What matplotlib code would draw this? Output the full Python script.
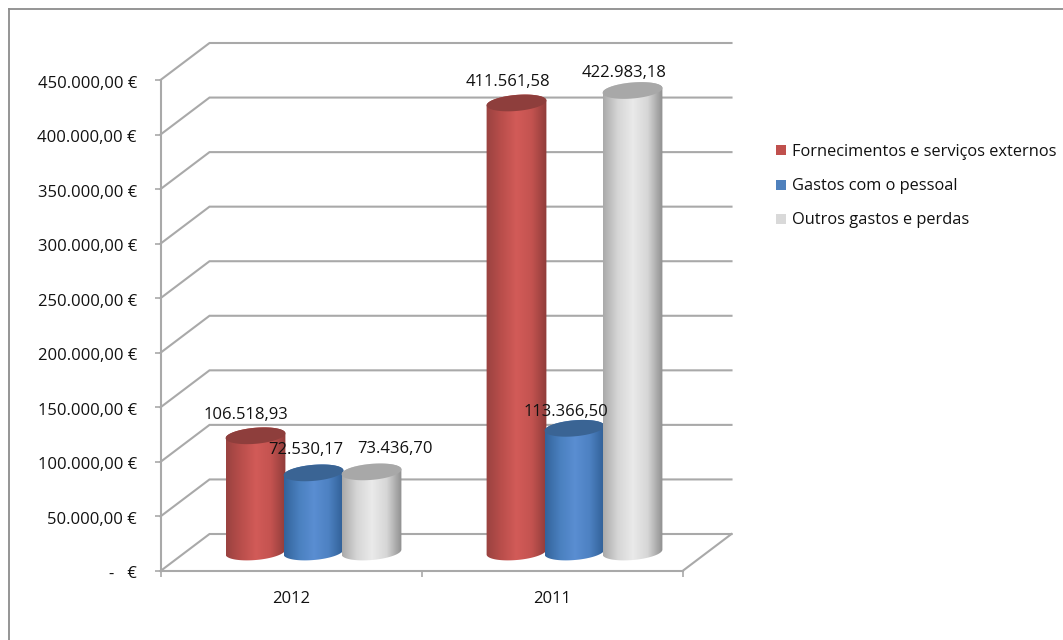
"""
Cost breakdown by year, drawn as a 3D-style cylinder column chart.
"""

import matplotlib
matplotlib.use("Agg")
import numpy as np
import matplotlib.pyplot as plt
from matplotlib.colors import LinearSegmentedColormap
from matplotlib.lines import Line2D
from matplotlib.patches import PathPatch, Rectangle
from matplotlib.path import Path
from matplotlib.transforms import ScaledTranslation

plt.rcParams["font.family"] = ["Open Sans", "DejaVu Sans"]

# ==== Data ====
YEARS = ["2012", "2011"]
SERIES = ["Fornecimentos e serviços externos", "Gastos com o pessoal", "Outros gastos e perdas"]
FORNECIMENTOS = [106518.93, 411561.58]
PESSOAL = [72530.17, 113366.50]
OUTROS = [73436.70, 422983.18]
Y_TICKS = [0, 50000, 100000, 150000, 200000, 250000, 300000, 350000, 400000, 450000]
Y_TICK_LABELS = ["-   €", "50.000,00 €", "100.000,00 €", "150.000,00 €", "200.000,00 €",
                 "250.000,00 €", "300.000,00 €", "350.000,00 €", "400.000,00 €", "450.000,00 €"]

# ==== Layout (pixels) ====
W, H = 1063, 640
AX_LEFT, AX_RIGHT, AX_TOP, AX_BOTTOM = 160.5, 682.5, 80, 571
DEPTH_X, DEPTH_Y = 49, 37
BAR_DEPTH_X, BAR_DEPTH_Y = 22.5, 19
BAR_STEP = 58
RADIUS = 30
MINOR = 8
TILT = np.deg2rad(5)

GRID = "#a9a9a9"
TEXT = "#111111"
FONT = 12
LEGEND_FONT = 11.8

# Gradient stops, top-cap colour and legend swatch per series
STYLES = [
    (["#9a4240", "#b94e4b", "#d25b58", "#c45350", "#8f3c3a"], "#8e3e3c", "#c0504d"),
    (["#33639b", "#4a80bf", "#5a8ed2", "#4d81c2", "#2f5e94"], "#3a6494", "#4f81bd"),
    (["#aaaaaa", "#d6d6d6", "#eaeaea", "#d6d6d6", "#8f8f8f"], "#a8a8a8", "#d9d9d9"),
]

# Label nudges per year and series, in pixels from the cap centre
LABEL_OFFSETS = [[(-10, 21), (-8, 23), (24, 23)], [(-9, 21), (-9, 16), (-8, 17)]]


def ellipse(t):
    """Returns pixel offsets of the tilted cylinder rim at parameter t."""
    ex = RADIUS * np.cos(t) * np.cos(TILT) - MINOR * np.sin(t) * np.sin(TILT)
    ey = RADIUS * np.cos(t) * np.sin(TILT) + MINOR * np.sin(t) * np.cos(TILT)
    return ex, ey


def draw_cylinder(ax, front_x, value, stops, cap):
    """Draws one cylinder standing near mid depth of the floor."""
    cx = front_x + BAR_DEPTH_X * UNIT_X
    base = BAR_DEPTH_Y * UNIT_Y
    top = value + base

    # Silhouette: lower half of the base rim joined to the upper half of the top rim
    t0 = np.arctan2(-MINOR * np.sin(TILT), RADIUS * np.cos(TILT))
    lower_x, lower_y = ellipse(np.linspace(np.pi + t0, 2 * np.pi + t0, 60))
    upper_x, upper_y = ellipse(np.linspace(t0, np.pi + t0, 60))
    xs = cx + np.r_[lower_x, upper_x] * UNIT_X
    ys = np.r_[base + lower_y * UNIT_Y, top + upper_y * UNIT_Y]
    outline = Path(np.c_[xs, ys])

    cmap = LinearSegmentedColormap.from_list("shade", stops)
    image = ax.imshow(np.linspace(0, 1, 128)[None, :], cmap=cmap, aspect="auto", zorder=3,
                      extent=(cx - RADIUS * UNIT_X, cx + RADIUS * UNIT_X, -MINOR * UNIT_Y,
                              top + MINOR * UNIT_Y * 2))
    image.set_clip_path(PathPatch(outline, transform=ax.transData))

    rim_x, rim_y = ellipse(np.linspace(0, 2 * np.pi, 121))
    ax.fill(cx + rim_x * UNIT_X, top + rim_y * UNIT_Y, color=cap, lw=0, zorder=3, clip_on=False)
    return cx, top


fig = plt.figure(figsize=(W / 100, H / 100), dpi=100, facecolor="white")
ax = fig.add_axes([AX_LEFT / W, 1 - AX_BOTTOM / H, (AX_RIGHT - AX_LEFT) / W, (AX_BOTTOM - AX_TOP) / H])
ax.patch.set_alpha(0)
ax.set_xlim(0, len(YEARS))
ax.set_ylim(0, Y_TICKS[-1])

UNIT_X = len(YEARS) / (AX_RIGHT - AX_LEFT)
UNIT_Y = Y_TICKS[-1] / (AX_BOTTOM - AX_TOP)
dx, dy = DEPTH_X * UNIT_X, DEPTH_Y * UNIT_Y

# Chart frame: only its top and left edges fall inside the canvas
frame_x, frame_y = 8.5 / W, 1 - 8.5 / H
fig.add_artist(Line2D([frame_x, 1], [frame_y, frame_y], color="#8c8c8c", lw=1.3))
fig.add_artist(Line2D([frame_x, frame_x], [0, frame_y], color="#8c8c8c", lw=1.3))

# Back wall and side wall
for tick in Y_TICKS:
    ax.plot([0, dx, len(YEARS) + dx], [tick, tick + dy, tick + dy], color=GRID, lw=1.5,
            clip_on=False, zorder=1, solid_joinstyle="miter")
ax.plot([len(YEARS), len(YEARS) + dx], [0, dy], color=GRID, lw=1.5, clip_on=False, zorder=1)

# Axes
for side in ["top", "right"]:
    ax.spines[side].set_visible(False)
for side in ["left", "bottom"]:
    ax.spines[side].set_color(GRID)
    ax.spines[side].set_linewidth(1.5)
ax.set_yticks(Y_TICKS, Y_TICK_LABELS)
ax.set_xticks(range(len(YEARS) + 1), [""] * (len(YEARS) + 1))
ax.set_xticks(np.arange(len(YEARS)) + 0.5, YEARS, minor=True)
ax.tick_params(axis="y", length=4, width=1.2, color=GRID, pad=13, labelsize=FONT, labelcolor=TEXT)
ax.tick_params(axis="x", which="major", length=4.5, width=1.2, color=GRID)
ax.tick_params(axis="x", which="minor", length=0, pad=14.5, labelsize=FONT, labelcolor=TEXT)

# Value axis labels sit slightly under their ticks
for label in ax.get_yticklabels():
    label.set_transform(label.get_transform() + ScaledTranslation(0, -1.5 / 100, fig.dpi_scale_trans))

# Cylinders and their value labels
for s, values in enumerate([FORNECIMENTOS, PESSOAL, OUTROS]):
    stops, cap, _ = STYLES[s]
    for i, value in enumerate(values):
        front_x = i + 0.5 + (s - 1) * BAR_STEP * UNIT_X
        cx, top = draw_cylinder(ax, front_x, value, stops, cap)
        text = f"{value:,.2f}".replace(",", "#").replace(".", ",").replace("#", ".")
        off_x, off_y = LABEL_OFFSETS[i][s]
        ax.annotate(text, (cx, top), xytext=(off_x * 0.72, off_y * 0.72), textcoords="offset points",
                    ha="center", va="center", fontsize=FONT, color=TEXT, zorder=6, annotation_clip=False)

ax.set_xlim(0, len(YEARS))
ax.set_ylim(0, Y_TICKS[-1])

# Legend entries
for (_, _, swatch), label, y in zip(STYLES, SERIES, [150, 185, 219]):
    fig.add_artist(Rectangle((776 / W, 1 - (y + 5) / H), 10 / W, 10 / H, transform=fig.transFigure,
                             facecolor=swatch, edgecolor="none"))
    fig.text(792 / W, 1 - (y + 1.5) / H, label, fontsize=LEGEND_FONT, color=TEXT, va="center", ha="left")

fig.savefig("out.png", dpi=100)
